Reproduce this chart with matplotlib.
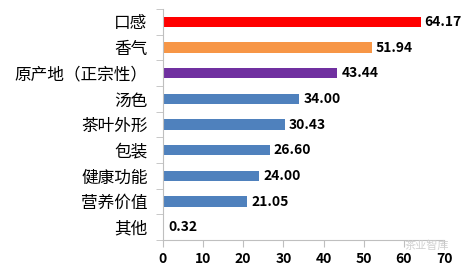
import numpy as np
import matplotlib.pyplot as plt

plt.rcParams['font.family'] = ['Noto Sans CJK SC', 'DejaVu Sans']

categories = ['口感', '香气', '原产地（正宗性）', '汤色', '茶叶外形', '包装', '健康功能', '营养价值', '其他']
values = [64.17, 51.94, 43.44, 34.00, 30.43, 26.60, 24.00, 21.05, 0.32]
colors = ['#FF0000', '#F79646', '#7030A0'] + ['#4F81BD'] * 6

fig = plt.figure(figsize=(4.64, 2.75), dpi=100)
ax = fig.add_axes([0.351, 0.127, 0.606, 0.84])

y = np.arange(len(categories))
ax.barh(y, values, height=0.4, color=colors)
ax.set_ylim(len(categories) - 0.5, -0.5)
ax.set_xlim(0, 70)
ax.set_xticks(range(0, 71, 10))
ax.set_yticks(y)
ax.set_yticklabels(categories, fontsize=12)
ax.set_yticks(np.arange(-0.5, len(categories), 1), minor=True)
ax.tick_params(axis='y', which='major', length=0, pad=11)
ax.tick_params(axis='y', which='minor', length=5, color='#BFBFBF')
ax.tick_params(axis='x', length=5, color='#BFBFBF', labelsize=10)
for lbl in ax.get_xticklabels():
    lbl.set_fontweight('bold')

for s in ['top', 'right']:
    ax.spines[s].set_visible(False)
for s in ['left', 'bottom']:
    ax.spines[s].set_color('#BFBFBF')

for yi, v in zip(y, values):
    ax.text(v + 1.0, yi, f'{v:.2f}', va='center', ha='left', fontsize=10, fontweight='bold')

# watermark
fig.text(0.92, 0.108, '茶业智库', fontsize=8, color='#D0D0D0', ha='center', va='center')

plt.savefig('out.png', dpi=100)
